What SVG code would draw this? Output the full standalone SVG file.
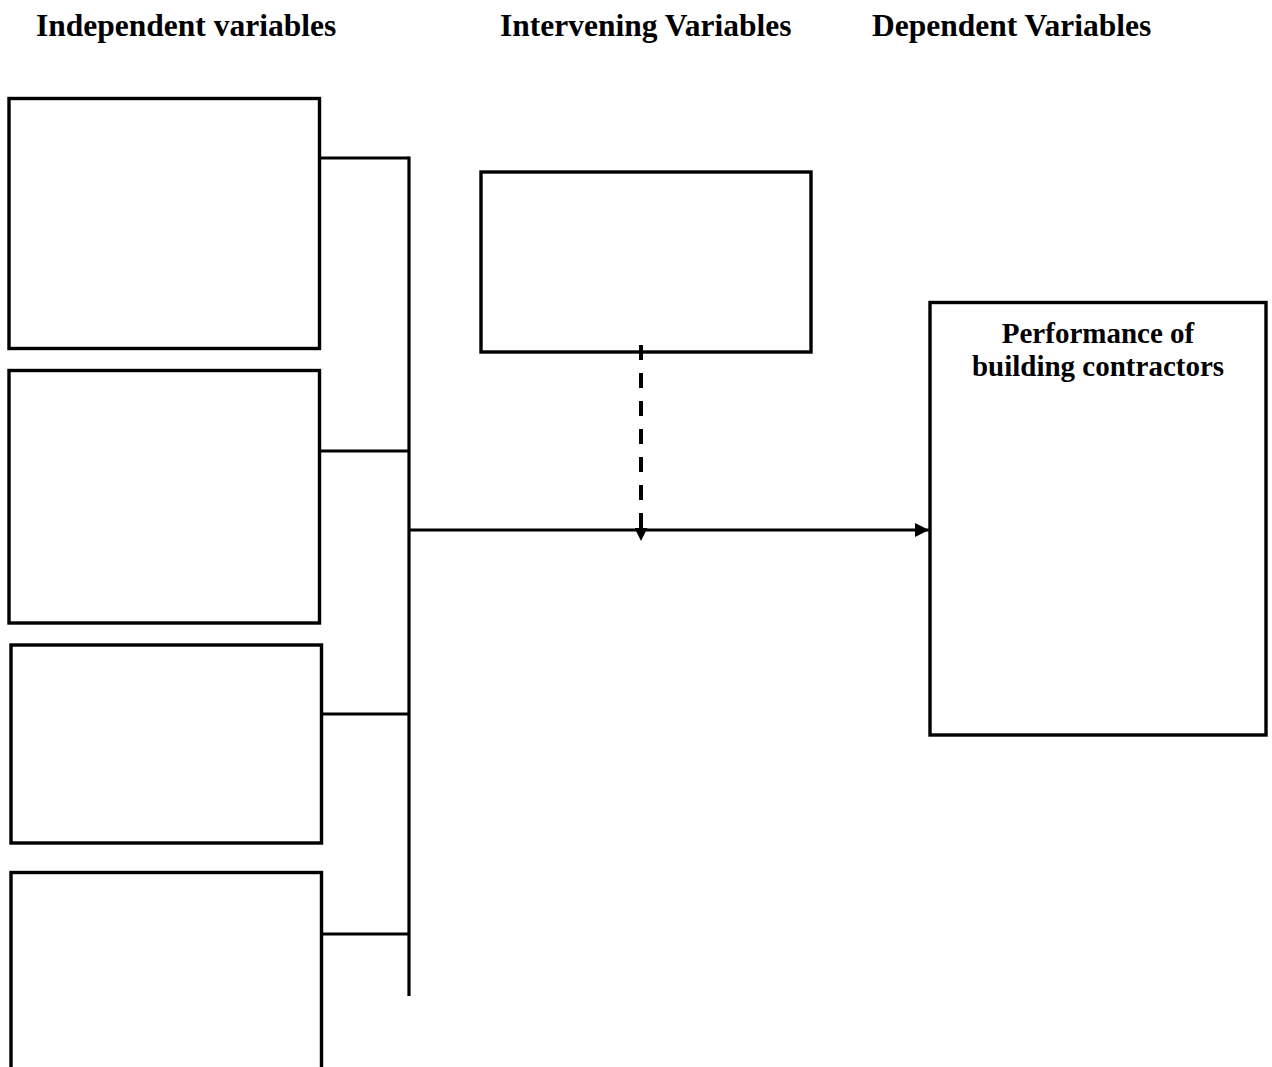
<svg xmlns="http://www.w3.org/2000/svg" width="1272" height="1067" viewBox="0 0 1272 1067">
<style>
.box{fill:#fff;stroke:#000;stroke-width:3.4}
.ln{fill:none;stroke:#000;stroke-width:3.2}
.dash{fill:none;stroke:#000;stroke-width:4;stroke-dasharray:15 13}
.hd{font-family:"Liberation Serif","Times New Roman",serif;font-weight:bold;font-size:31.5px;fill:#000}
.tx{font-family:"Liberation Serif","Times New Roman",serif;font-weight:bold;font-size:29px;fill:#000;text-anchor:middle}
</style>
<defs>
<marker id="ah" viewBox="0 0 10 10" refX="10" refY="5" markerWidth="14" markerHeight="14" markerUnits="userSpaceOnUse" orient="auto">
<path d="M0,0 L10,5 L0,10 z" fill="#000"/>
</marker>
<marker id="ahd" viewBox="0 0 10 10" refX="10" refY="5" markerWidth="13" markerHeight="13" markerUnits="userSpaceOnUse" orient="auto">
<path d="M0,0 L10,5 L0,10 z" fill="#000"/>
</marker>
</defs>
<rect width="1272" height="1067" fill="#fff"/>
<g id="headings">
<text class="hd" x="36" y="36">Independent variables</text>
<text class="hd" x="500" y="36">Intervening Variables</text>
<text class="hd" x="872" y="36">Dependent Variables</text>
</g>
<g id="connectors">
<line class="ln" x1="320" y1="158" x2="409" y2="158"/>
<line class="ln" x1="320" y1="451" x2="409" y2="451"/>
<line class="ln" x1="322" y1="714" x2="409" y2="714"/>
<line class="ln" x1="322" y1="934" x2="409" y2="934"/>
<line class="ln" x1="409" y1="156.4" x2="409" y2="996"/>
<line class="ln" x1="409" y1="530" x2="929" y2="530" marker-end="url(#ah)"/>
</g>
<g id="iv1"><rect class="box" x="9" y="98.5" width="310.5" height="250"/></g>
<g id="iv2"><rect class="box" x="9" y="370.5" width="310.5" height="252.5"/></g>
<g id="iv3"><rect class="box" x="11" y="645" width="310.5" height="198"/></g>
<g id="iv4"><rect class="box" x="11" y="872.5" width="310.5" height="230"/></g>
<g id="intervening"><rect class="box" x="481" y="172" width="330" height="180"/></g>
<g id="dashed-connector">
<line class="dash" x1="641" y1="345" x2="641" y2="541" marker-end="url(#ahd)"/>
</g>
<g id="dependent">
<rect class="box" x="930" y="302.5" width="336" height="432.5"/>
<text class="tx" x="1098" y="343">Performance of</text>
<text class="tx" x="1098" y="376">building contractors</text>
</g>
</svg>
